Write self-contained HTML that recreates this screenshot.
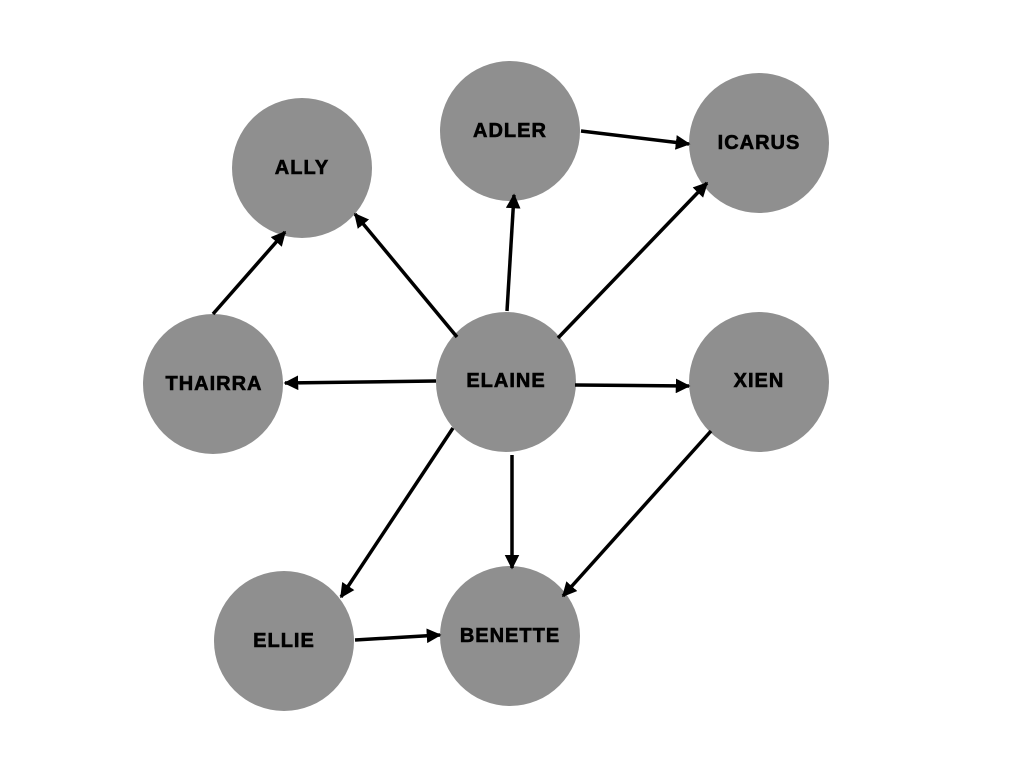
<!DOCTYPE html>
<html><head><style>
html,body{margin:0;padding:0;background:#fff;}
svg{display:block}
text{font-family:"Liberation Sans",sans-serif;font-weight:bold;font-size:20px;fill:#000;stroke:#000;stroke-width:0.6px;text-anchor:middle;dominant-baseline:central;letter-spacing:1px}
</style></head><body>
<svg width="1024" height="768" viewBox="0 0 1024 768" xmlns="http://www.w3.org/2000/svg">
<defs><marker id="a" viewBox="0 0 10 10" refX="9" refY="5" markerWidth="4.2" markerHeight="4.2" orient="auto" markerUnits="strokeWidth"><path d="M0,0 L10,5 L0,10 z" fill="#000"/></marker></defs>
<g fill="#8f8f8f">
<circle cx="302" cy="168" r="70"/>
<circle cx="510" cy="131" r="70"/>
<circle cx="759" cy="143" r="70"/>
<circle cx="213" cy="384" r="70"/>
<circle cx="506" cy="382" r="70"/>
<circle cx="759" cy="382" r="70"/>
<circle cx="284" cy="641" r="70"/>
<circle cx="510" cy="636" r="70"/>
</g>
<g stroke="#000" stroke-width="3.5" fill="none" marker-end="url(#a)">
<line x1="457" y1="337" x2="355" y2="214"/>
<line x1="507" y1="311" x2="514" y2="195"/>
<line x1="558" y1="338" x2="707" y2="183"/>
<line x1="436" y1="381" x2="285" y2="383"/>
<line x1="575" y1="385" x2="689" y2="386"/>
<line x1="453" y1="428" x2="341" y2="597"/>
<line x1="512" y1="455" x2="512" y2="568"/>
<line x1="213" y1="314" x2="285" y2="232"/>
<line x1="581" y1="131" x2="689" y2="144"/>
<line x1="711" y1="431" x2="563" y2="596"/>
<line x1="355" y1="640" x2="440" y2="635"/>
</g>
<text x="302" y="168">ALLY</text>
<text x="510" y="131">ADLER</text>
<text x="759" y="143">ICARUS</text>
<text x="214" y="384">THAIRRA</text>
<text x="506" y="381">ELAINE</text>
<text x="759" y="381">XIEN</text>
<text x="284" y="641">ELLIE</text>
<text x="510" y="636">BENETTE</text>
</svg>
</body></html>
